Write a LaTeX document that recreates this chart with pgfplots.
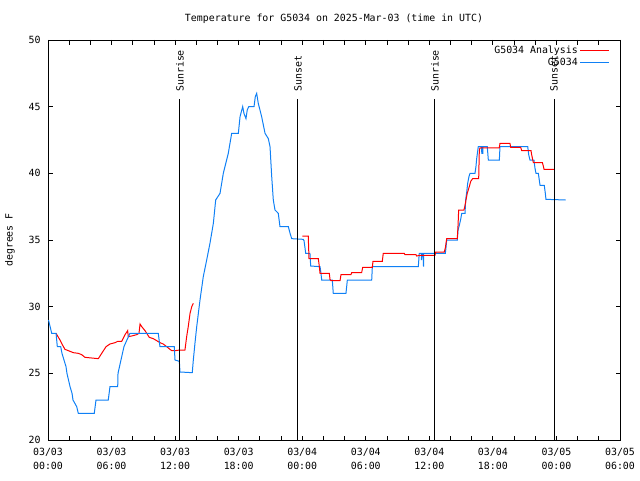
\documentclass[border=0pt]{standalone}
\usepackage{fontspec}
\setmainfont{DejaVu Sans Mono}
\usepackage{pgfplots}
\pgfplotsset{compat=1.18}
\definecolor{obsblue}{RGB}{15,128,245}
\definecolor{anared}{RGB}{255,0,0}
\newcommand{\gfont}{\fontsize{9.9}{14}\selectfont}
\begin{document}
\begin{tikzpicture}[x=1pt,y=1pt]
\path[use as bounding box] (0,0) rectangle (640,480);
\begin{axis}[
  at={(48pt,40pt)}, anchor=south west,
  scale only axis, width=572pt, height=400pt,
  xmin=0, xmax=54, ymin=20, ymax=50,
  axis line style={line width=0.9pt},
  xtick={0,6,...,54},
  xticklabels={{03/03\\00:00},{03/03\\06:00},{03/03\\12:00},{03/03\\18:00},{03/04\\00:00},{03/04\\06:00},{03/04\\12:00},{03/04\\18:00},{03/05\\00:00},{03/05\\06:00}},
  minor x tick num=2,
  ytick={20,25,...,50},
  tick align=inside,
  major tick length=4.5pt, minor tick length=4.5pt,
  every tick/.style={black, line width=0.8pt},
  xticklabel style={align=center, font=\gfont, yshift=-4.5pt},
  yticklabel style={font=\gfont, /pgf/number format/assume math mode=true, xshift=-4pt},
  title={Temperature for G5034 on 2025-Mar-03 (time in UTC)},
  every axis title/.style={at={(axis description cs:0.5,1.0525)}, anchor=center, font=\gfont},
  ylabel={degrees F},
  every axis y label/.style={at={(axis description cs:-0.0664,0.5)}, rotate=90, anchor=center, font=\gfont},
  legend style={at={(axis description cs:0.9825,0.99)}, anchor=north east, draw=none, fill=none, font=\gfont, inner sep=0pt, row sep=-1pt, nodes={inner sep=2pt}},
  legend cell align=right,
  legend plot pos=right,
  legend image code/.code={\draw[#1] (0pt,0pt) -- (29pt,0pt);},
  clip=true,
]
\addplot[anared, line width=1pt] coordinates {
(0.76,28.0) (1.13,27.5) (1.39,27.1) (1.60,26.8) (1.92,26.7) (2.39,26.55) (2.86,26.5) (3.18,26.4) (3.49,26.2) (4.75,26.1)
(5.07,26.5) (5.48,27.0) (5.85,27.2) (6.33,27.3) (6.58,27.4) (6.96,27.4) (7.27,27.9) (7.52,28.2) (7.58,27.75) (7.90,27.8)
(8.37,27.9) (8.59,28.0) (8.69,28.7) (8.85,28.5) (9.16,28.2) (9.56,27.7) (9.94,27.6) (10.26,27.45) (10.57,27.3) (10.88,27.2)
(11.36,26.9) (11.68,26.7) (11.99,26.7) (12.46,26.75) (12.93,26.75) (13.09,27.75) (13.24,28.5) (13.41,29.5) (13.57,30.0) (13.72,30.25)
};
\addlegendentry{G5034 Analysis}
\addplot[obsblue, line width=1pt] coordinates {
(0.05,29.0) (0.35,28.0) (0.76,28.0) (0.88,27.0) (1.20,27.0) (1.32,26.5) (1.51,26.0) (1.70,25.5) (1.79,25.0) (2.08,24.0)
(2.27,23.5) (2.36,23.0) (2.71,22.5) (2.86,22.0) (4.37,22.0) (4.53,23.0) (5.69,23.0) (5.85,24.0) (6.58,24.0) (6.61,25.0)
(6.89,26.0) (7.17,27.0) (7.45,27.5) (7.74,28.0) (10.41,28.0) (10.57,27.0) (11.92,27.0) (11.99,26.0) (12.40,25.9) (12.46,25.1)
(13.62,25.05) (13.72,26.0) (13.88,27.3) (14.04,28.5) (14.35,30.5) (14.66,32.25) (14.98,33.5) (15.29,34.75) (15.61,36.25) (15.83,38.0)
(16.24,38.5) (16.55,40.0) (17.02,41.5) (17.34,43.0) (17.97,43.0) (18.13,44.25) (18.38,45.0) (18.50,44.5) (18.69,44.1) (18.81,44.75)
(18.95,45.0) (19.45,45.0) (19.57,45.75) (19.70,46.0) (19.85,45.25) (20.01,44.75) (20.17,44.25) (20.49,43.0) (20.80,42.6) (20.96,42.0)
(21.12,39.75) (21.27,38.0) (21.43,37.25) (21.74,37.0) (21.90,36.0) (22.69,36.0) (22.85,35.5) (23.01,35.1) (24.10,35.05) (24.17,34.95)
(24.33,34.0) (24.73,34.0) (24.80,33.05) (25.68,33.0) (25.77,32.5) (25.84,32.0) (26.84,32.0) (26.93,31.0) (28.13,31.0) (28.26,32.0)
(30.56,32.0) (30.62,33.0) (34.96,33.0) (35.05,34.0) (35.24,34.0) (35.26,33.5) (35.35,34.0) (35.43,34.0) (35.45,33.0) (35.47,34.0)
(37.51,34.0) (37.57,34.4) (37.64,35.0) (38.64,35.0) (38.71,35.75) (38.83,36.1) (38.96,36.55) (39.06,37.0) (39.37,37.0) (39.43,38.0)
(39.53,38.6) (39.62,39.25) (39.74,39.75) (39.84,40.0) (40.31,40.0) (40.40,40.5) (40.47,41.1) (40.62,42.0) (40.94,42.0) (40.95,41.5)
(41.05,41.5) (41.06,42.0) (41.47,42.0) (41.57,41.0) (42.61,41.0) (42.67,42.0) (45.29,42.0) (45.38,41.4) (45.50,41.0) (45.88,41.0)
(45.97,40.4) (46.07,40.0) (46.29,40.0) (46.38,39.5) (46.45,39.1) (46.85,39.1) (46.95,38.5) (47.01,38.05) (48.87,38.0)
};
\addlegendentry{G5034}
\addplot[anared, line width=1pt, forget plot] coordinates {
(24.01,35.3) (24.57,35.3) (24.64,33.6) (25.52,33.6) (25.61,33.05) (25.68,32.5) (26.56,32.5) (26.62,32.05) (26.72,31.95) (27.57,31.95)
(27.66,32.4) (28.60,32.4) (28.67,32.55) (29.61,32.55) (29.71,32.95) (30.62,32.95) (30.68,33.4) (31.56,33.4) (31.65,34.0) (33.64,34.0)
(33.70,33.9) (34.74,33.9) (34.81,33.8) (35.12,33.85) (36.53,33.85) (36.60,34.1) (37.41,34.1) (37.51,34.4) (37.64,35.1) (38.64,35.1)
(38.71,36.1) (38.77,37.25) (39.27,37.25) (39.37,37.6) (39.46,38.0) (39.58,38.5) (39.77,39.0) (39.91,39.4) (40.09,39.6) (40.66,39.6)
(40.72,41.75) (40.78,41.9) (42.60,41.9) (42.67,42.25) (43.61,42.25) (43.68,41.95) (44.63,41.95) (44.72,41.7) (45.60,41.7) (45.66,41.4)
(45.82,40.8) (46.67,40.8) (46.76,40.55) (46.83,40.3) (47.77,40.3)
};
\addplot[black, line width=1pt, forget plot] coordinates {(12.46,20) (12.46,45.6)};
\addplot[black, line width=1pt, forget plot] coordinates {(23.60,20) (23.60,45.6)};
\addplot[black, line width=1pt, forget plot] coordinates {(36.53,20) (36.53,45.6)};
\addplot[black, line width=1pt, forget plot] coordinates {(47.77,20) (47.77,45.6)};
\node[rotate=90, anchor=west, inner sep=0pt, font=\gfont] at (axis cs:12.46,46.1) {Sunrise};
\node[rotate=90, anchor=west, inner sep=0pt, font=\gfont] at (axis cs:23.60,46.1) {Sunset};
\node[rotate=90, anchor=west, inner sep=0pt, font=\gfont] at (axis cs:36.53,46.1) {Sunrise};
\node[rotate=90, anchor=west, inner sep=0pt, font=\gfont] at (axis cs:47.77,46.1) {Sunset};
\end{axis}
\end{tikzpicture}
\end{document}
